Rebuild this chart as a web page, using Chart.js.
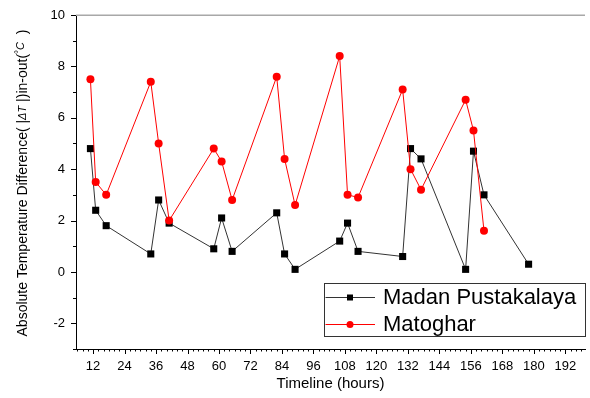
<!DOCTYPE html>
<html>
<head>
<meta charset="utf-8">
<script src="https://cdn.jsdelivr.net/npm/chart.js@4.4.1/dist/chart.umd.min.js"></script>
<style>
html,body{margin:0;padding:0;background:#fff;}
#wrap{width:590px;height:398px;position:relative;}
</style>
</head>
<body>
<div id="wrap"><canvas id="c" width="590" height="398"></canvas></div>
<script>
// ---- data ----
const hours = [11, 13, 17, 34, 37, 41, 58, 61, 65, 82, 85, 89, 106, 109, 113, 130, 133, 137, 154, 157, 161, 178];
const madanPustakalaya = [4.8, 2.4, 1.8, 0.7, 2.8, 1.9, 0.9, 2.1, 0.8, 2.3, 0.7, 0.1, 1.2, 1.9, 0.8, 0.6, 4.8, 4.4, 0.1, 4.7, 3.0, 0.3];
const matoghar = [7.5, 3.5, 3.0, 7.4, 5.0, 2.0, 4.8, 4.3, 2.8, 7.6, 4.4, 2.6, 8.4, 3.0, 2.9, 7.1, 4.0, 3.2, 6.7, 5.5, 1.6];
const xTickLabels = [12, 24, 36, 48, 60, 72, 84, 96, 108, 120, 132, 144, 156, 168, 180, 192];
const yTickLabels = [-2, 0, 2, 4, 6, 8, 10];
const seriesNames = ['Madan Pustakalaya', 'Matoghar'];

const FONT = "'Liberation Sans', Arial, sans-serif";

function pts(xs, ys) { return ys.map((v, i) => ({ x: xs[i], y: v })); }

const decor = {
  id: 'decor',
  afterDraw(chart) {
    const ctx = chart.ctx;
    const a = chart.chartArea;
    const xs = chart.scales.x, ys = chart.scales.y;
    ctx.save();
    // top frame line (gray)
    ctx.strokeStyle = '#a8a8a8';
    ctx.lineWidth = 1.5;
    ctx.beginPath();
    ctx.moveTo(a.left, a.top + 0.25);
    ctx.lineTo(a.right, a.top + 0.25);
    ctx.stroke();
    // x ticks (major every 12, minor every 2)
    ctx.strokeStyle = '#000';
    ctx.lineWidth = 1;
    ctx.beginPath();
    for (let h = 6; h <= 198; h += 2) {
      const px = Math.round(xs.getPixelForValue(h)) + 0.5;
      const len = (h % 12 === 0) ? 5 : 2.5;
      ctx.moveTo(px, a.bottom);
      ctx.lineTo(px, a.bottom + len);
    }
    // y ticks (major every 2, minor every 1)
    for (let v = -3; v <= 10; v += 1) {
      const py = Math.round(ys.getPixelForValue(v)) + 0.5;
      const len = (v % 2 === 0) ? 5 : 3;
      ctx.moveTo(a.left, py);
      ctx.lineTo(a.left - len, py);
    }
    ctx.stroke();

    // x title
    ctx.fillStyle = '#000';
    ctx.font = '15px ' + FONT;
    ctx.textAlign = 'center';
    ctx.textBaseline = 'middle';
    ctx.fillText('Timeline (hours)', (a.left + a.right) / 2, 384);

    // y title, mixed styles
    const segs = [
      { t: 'Absolute Temperature Difference( |', f: '14px ' + FONT, dy: 0 },
      { t: '\u0394T', f: 'italic 11px ' + FONT, dy: 0 },
      { t: ' |)in-out(', f: '14px ' + FONT, dy: 0 },
      { t: '\u00B0', f: '10px ' + FONT, dy: -4 },
      { t: 'C', f: 'italic 11px ' + FONT, dy: -2 },
      { t: '  )', f: '14px ' + FONT, dy: 0 }
    ];
    let total = 0;
    segs.forEach(s => { ctx.font = s.f; s.w = ctx.measureText(s.t).width; total += s.w; });
    ctx.translate(23, 183);
    ctx.rotate(-Math.PI / 2);
    ctx.textAlign = 'left';
    let cx = -total / 2;
    segs.forEach(s => { ctx.font = s.f; ctx.fillText(s.t, cx, s.dy); cx += s.w; });
    ctx.restore();

    // legend box
    ctx.save();
    const bx = 324.5, by = 283.5, bw = 261, bh = 53;
    ctx.fillStyle = '#fff';
    ctx.fillRect(bx, by, bw, bh);
    ctx.strokeStyle = '#333';
    ctx.lineWidth = 1;
    ctx.strokeRect(bx, by, bw, bh);
    const rowsY = [297, 324];
    chart.data.datasets.forEach((ds, i) => {
      const y = rowsY[i];
      ctx.strokeStyle = ds.borderColor;
      ctx.lineWidth = 1;
      ctx.beginPath();
      ctx.moveTo(bx + 1, y + 0.5);
      ctx.lineTo(375, y + 0.5);
      ctx.stroke();
      ctx.fillStyle = ds.pointBackgroundColor;
      if (ds.pointStyle === 'rect') {
        ctx.fillRect(347, y - 2.5, 6, 6);
      } else {
        ctx.beginPath();
        ctx.arc(350, y + 0.5, 3.5, 0, Math.PI * 2);
        ctx.fill();
      }
      ctx.fillStyle = '#000';
      ctx.font = '22px ' + FONT;
      ctx.textAlign = 'left';
      ctx.textBaseline = 'middle';
      ctx.fillText(ds.label, 383, y + 1);
    });
    ctx.restore();
  }
};

new Chart(document.getElementById('c'), {
  type: 'line',
  data: {
    datasets: [
      {
        label: seriesNames[0],
        data: pts(hours, madanPustakalaya),
        borderColor: '#333333',
        backgroundColor: '#000000',
        pointBackgroundColor: '#000000',
        pointBorderColor: '#000000',
        pointStyle: 'rect',
        pointRadius: 5,
        pointBorderWidth: 0,
        borderWidth: 1,
        tension: 0,
        order: 1
      },
      {
        label: seriesNames[1],
        data: pts(hours, matoghar),
        borderColor: '#ff0000',
        backgroundColor: '#ff0000',
        pointBackgroundColor: '#ff0000',
        pointBorderColor: '#ff0000',
        pointStyle: 'circle',
        pointRadius: 4,
        pointBorderWidth: 0,
        borderWidth: 1,
        tension: 0,
        order: 0
      }
    ]
  },
  options: {
    responsive: false,
    animation: false,
    layout: { padding: { top: 15, right: 0, left: 0, bottom: 0 } },
    plugins: { legend: { display: false }, tooltip: { enabled: false } },
    scales: {
      x: {
        type: 'linear',
        min: 5.5,
        max: 199.5,
        grid: { display: false },
        border: { display: true, color: '#000', width: 1 },
        ticks: {
          color: '#000',
          font: { family: FONT, size: 13 },
          padding: 2,
          maxRotation: 0,
          autoSkip: false
        },
        afterBuildTicks(scale) { scale.ticks = xTickLabels.map(v => ({ value: v })); },
        afterFit(scale) { scale.height = 49; scale.paddingLeft = 0; scale.paddingRight = 0; }
      },
      y: {
        type: 'linear',
        min: -3,
        max: 10,
        grid: { display: false },
        border: { display: true, color: '#000', width: 1 },
        ticks: {
          color: '#000',
          font: { family: FONT, size: 13 },
          padding: 3
        },
        afterBuildTicks(scale) { scale.ticks = yTickLabels.map(v => ({ value: v })); },
        afterFit(scale) { scale.width = 76; scale.paddingTop = 0; scale.paddingBottom = 0; }
      }
    }
  },
  plugins: [decor]
});
</script>
</body>
</html>
